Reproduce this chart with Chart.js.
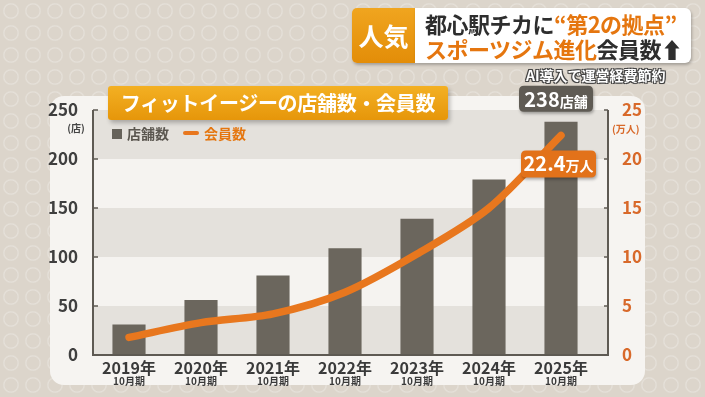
<!DOCTYPE html>
<html><head><meta charset="utf-8">
<script src="https://cdn.jsdelivr.net/npm/chart.js@4"></script>
<style>
html,body{margin:0;padding:0;}
body{width:705px;height:397px;overflow:hidden;position:relative;background:#dcd5cb;
 background-image:radial-gradient(circle at 11px 11px, transparent 6px, rgba(255,255,255,0.28) 7px, transparent 8.5px);
 background-size:22px 22px;font-family:"Noto Sans CJK JP","Noto Sans",sans-serif;}
.panel{position:absolute;left:50px;top:96px;width:595px;height:289px;background:#f6f4f1;border-radius:14px;}
#wrap{position:absolute;left:0;top:0;width:705px;height:397px;}
.title{position:absolute;left:108px;top:86px;width:340px;height:34px;background:linear-gradient(#f3b023,#e6960a);
 border-radius:3px;box-shadow:2px 3px 4px rgba(0,0,0,0.25);color:#fff;font-weight:bold;font-size:20px;line-height:34px;text-align:center;white-space:nowrap;letter-spacing:-0.3px;}
.legend{position:absolute;left:112px;top:123px;font-weight:bold;font-size:14px;line-height:20px;white-space:nowrap;}
.legend .sq{display:inline-block;width:10px;height:10px;background:#66625a;margin-right:5px;vertical-align:-0px;}
.legend .ln{display:inline-block;width:16px;height:4px;background:#e8771e;border-radius:2px;margin:0 5px 0 14px;vertical-align:4px;}
.unitL{position:absolute;left:64px;top:120px;font-size:10px;font-weight:bold;color:#444;width:24px;text-align:center;}
.unitR{position:absolute;left:612px;top:121px;font-size:10px;font-weight:bold;color:#d8692a;}
.hdr1{position:absolute;left:352px;top:8px;width:63px;height:55px;background:linear-gradient(#f0a51f,#e38d08);border-radius:5px 0 0 5px;
 color:#fff;font-weight:bold;font-size:25px;line-height:55px;text-align:center;box-shadow:1px 2px 3px rgba(0,0,0,0.25);}
.hdr2{position:absolute;left:415px;top:8px;width:276px;height:55px;background:#fff;border-radius:0 6px 6px 0;box-shadow:1px 2px 3px rgba(0,0,0,0.25);}
.hdr2 div{position:absolute;left:10px;font-weight:bold;font-size:22px;white-space:nowrap;line-height:24px;color:#2e2e2e;letter-spacing:-0.5px;}
.or{color:#e5760f;}
.sub{position:absolute;left:526px;top:65px;font-size:14px;font-weight:bold;color:#fff;white-space:nowrap;
 text-shadow:-1px -1px 0 #444,1px -1px 0 #444,-1px 1px 0 #444,1px 1px 0 #444,0 0 2px #444;}
</style></head>
<body>
<div class="panel"></div>
<div id="wrap"><canvas id="c" width="705" height="397"></canvas></div>
<div class="title">フィットイージーの店舗数・会員数</div>
<div class="legend"><span class="sq"></span><span style="color:#5b5750">店舗数</span><span class="ln"></span><span style="color:#e5760f">会員数</span></div>
<div class="unitL">(店)</div>
<div class="unitR">(万人)</div>
<div class="hdr1">人気</div>
<div class="hdr2">
 <div style="top:3px">都心駅チカに<span class="or">“第2の拠点”</span></div>
 <div style="top:28px"><span class="or">スポーツジム進化</span>会員数⬆</div>
</div>
<div class="sub">AI導入で運営経費節約</div>
<script>
const years = ["2019年","2020年","2021年","2022年","2023年","2024年","2025年"];
const periodLabel = "10月期";
const storeCounts = [31, 56, 81, 109, 139, 179, 238];
const memberCounts = [1.8, 3.3, 4.2, 6.4, 10.3, 15.0, 22.4];
const leftTicks = [0, 50, 100, 150, 200, 250];
const rightTicks = [0, 5, 10, 15, 20, 25];

const FONT = '"Noto Sans CJK JP","Noto Sans",sans-serif';
const RIGHT_GAP = 11;

function roundRect(ctx, x, y, w, h, r){
  ctx.beginPath();
  ctx.moveTo(x+r,y);ctx.lineTo(x+w-r,y);ctx.quadraticCurveTo(x+w,y,x+w,y+r);
  ctx.lineTo(x+w,y+h-r);ctx.quadraticCurveTo(x+w,y+h,x+w-r,y+h);
  ctx.lineTo(x+r,y+h);ctx.quadraticCurveTo(x,y+h,x,y+h-r);
  ctx.lineTo(x,y+r);ctx.quadraticCurveTo(x,y,x+r,y);ctx.closePath();
}

const bandsPlugin = {
  id:'bands',
  beforeDatasetsDraw(chart){
    const {ctx, chartArea:a, scales:{y}} = chart;
    ctx.save();
    for(let i=0;i<leftTicks.length-1;i++){
      const y0 = y.getPixelForValue(leftTicks[i]);
      const y1 = y.getPixelForValue(leftTicks[i+1]);
      ctx.fillStyle = (i%2===0) ? '#e4e1dc' : '#f5f3f0';
      ctx.fillRect(a.left, y1, a.right+RIGHT_GAP-a.left, y0-y1);
    }
    ctx.restore();
  },
  afterDatasetsDraw(chart){
    const {ctx, chartArea:a, scales:{x,y,y1}} = chart;
    const R = a.right+RIGHT_GAP;
    ctx.save();
    ctx.strokeStyle='#5e5a53';ctx.lineWidth=2;
    ctx.beginPath();ctx.moveTo(a.left,a.top);ctx.lineTo(a.left,a.bottom);ctx.lineTo(R,a.bottom);ctx.lineTo(R,a.top);ctx.stroke();
    ctx.lineWidth=1.5;
    leftTicks.forEach(v=>{const py=y.getPixelForValue(v);ctx.beginPath();ctx.moveTo(a.left,py);ctx.lineTo(a.left+5,py);ctx.stroke();});
    rightTicks.forEach(v=>{const py=y1.getPixelForValue(v);ctx.beginPath();ctx.moveTo(R-4,py);ctx.lineTo(R,py);ctx.stroke();});
    ctx.textAlign='center';ctx.textBaseline='middle';ctx.fillStyle='#3a3a3a';
    years.forEach((t,i)=>{
      const px = x.getPixelForValue(i);
      ctx.font='bold 16px '+FONT;ctx.fillText(t,px,a.bottom+13);
      ctx.font='bold 10px '+FONT;ctx.fillText(periodLabel,px,a.bottom+26);
    });
    const last = years.length-1;
    const bx = x.getPixelForValue(last);
    const barTop = y.getPixelForValue(storeCounts[last]);
    ctx.shadowColor='rgba(0,0,0,0.3)';ctx.shadowBlur=3;ctx.shadowOffsetX=1;ctx.shadowOffsetY=2;
    ctx.fillStyle='#5f5b54';
    roundRect(ctx,bx-42,barTop-36,74,26,5);ctx.fill();
    const my = y1.getPixelForValue(memberCounts[last]);
    ctx.fillStyle='#e2721a';
    roundRect(ctx,bx-40,my+15,75,27,5);ctx.fill();
    ctx.shadowColor='transparent';
    ctx.fillStyle='#fff';ctx.textBaseline='alphabetic';ctx.textAlign='left';
    ctx.font='bold 20px '+FONT;
    const s1 = String(storeCounts[last]);
    const w1 = ctx.measureText(s1).width;
    ctx.font='bold 14px '+FONT;
    const w1b = ctx.measureText('店舗').width;
    let sx = bx-5-(w1+w1b)/2;
    ctx.font='bold 20px '+FONT;ctx.fillText(s1,sx,barTop-15);
    ctx.font='bold 14px '+FONT;ctx.fillText('店舗',sx+w1,barTop-15);
    ctx.font='bold 20px '+FONT;
    const s2 = memberCounts[last].toFixed(1);
    const w2 = ctx.measureText(s2).width;
    ctx.font='bold 14px '+FONT;
    const w2b = ctx.measureText('万人').width;
    sx = bx-2.5-(w2+w2b)/2;
    ctx.font='bold 20px '+FONT;ctx.fillText(s2,sx,my+36);
    ctx.font='bold 14px '+FONT;ctx.fillText('万人',sx+w2,my+36);
    ctx.restore();
  }
};

new Chart(document.getElementById('c'), {
  data:{
    labels: years,
    datasets:[
      {type:'line', label:'会員数', data:memberCounts, yAxisID:'y1', borderColor:'#e8771e', borderWidth:7.5,
       tension:0.3, pointRadius:0, borderCapStyle:'round', order:0, fill:false},
      {type:'bar', label:'店舗数', data:storeCounts, yAxisID:'y', backgroundColor:'#6b665d',
       categoryPercentage:1, barPercentage:0.46, order:1}
    ]
  },
  plugins:[bandsPlugin],
  options:{
    responsive:false, animation:false, maintainAspectRatio:false,
    layout:{padding:{top:110,left:0,right:0,bottom:0}},
    plugins:{legend:{display:false}, tooltip:{enabled:false}},
    scales:{
      x:{offset:true, grid:{display:false}, border:{display:false}, ticks:{display:false},
         afterFit(s){s.height=42;}},
      y:{position:'left', min:0, max:250, grid:{display:false}, border:{display:false},
         afterBuildTicks(s){s.ticks = leftTicks.map(v=>({value:v}));},
         ticks:{color:'#3f3f3f', padding:7, font:{family:FONT, size:17, weight:'bold'}},
         afterFit(s){s.width=93;}},
      y1:{position:'right', min:0, max:25, grid:{display:false}, border:{display:false},
         afterBuildTicks(s){s.ticks = rightTicks.map(v=>({value:v}));},
         ticks:{color:'#d8692a', padding:6+RIGHT_GAP, font:{family:FONT, size:17, weight:'bold'}},
         afterFit(s){s.width=108;}}
    }
  }
});
</script>
</body></html>
